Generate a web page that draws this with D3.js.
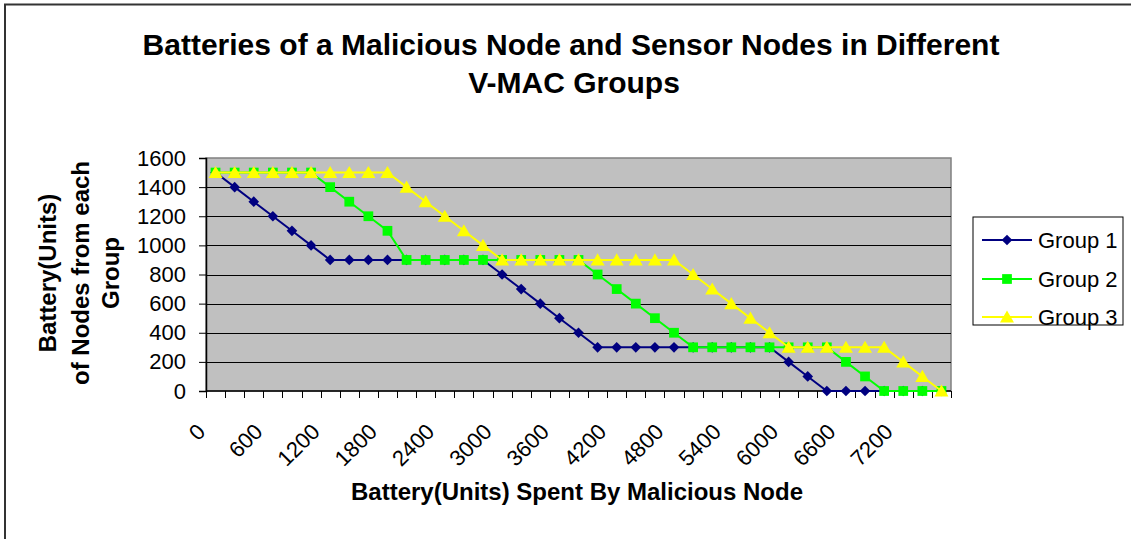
<!DOCTYPE html>
<html>
<head>
<meta charset="utf-8">
<script src="https://cdn.jsdelivr.net/npm/d3@7"></script>
<style>
  body { margin: 0; background: #fff; }
  text { font-family: "Liberation Sans", Arial, sans-serif; }
</style>
</head>
<body>
<div id="chart"></div>
<script>
// categories on x (battery spent by the malicious node)
var categories = [0, 200, 400, 600, 800, 1000, 1200, 1400, 1600, 1800,
  2000, 2200, 2400, 2600, 2800, 3000, 3200, 3400, 3600, 3800,
  4000, 4200, 4400, 4600, 4800, 5000, 5200, 5400, 5600, 5800,
  6000, 6200, 6400, 6600, 6800, 7000, 7200, 7400, 7600];

var group1 = [1500, 1400, 1300, 1200, 1100, 1000, 900, 900, 900, 900,
  900, 900, 900, 900, 900, 800, 700, 600, 500, 400,
  300, 300, 300, 300, 300, 300, 300, 300, 300, 300,
  200, 100, 0, 0, 0, 0, 0, 0, 0];

var group2 = [1500, 1500, 1500, 1500, 1500, 1500, 1400, 1300, 1200, 1100,
  900, 900, 900, 900, 900, 900, 900, 900, 900, 900,
  800, 700, 600, 500, 400, 300, 300, 300, 300, 300,
  300, 300, 300, 200, 100, 0, 0, 0, 0];

var group3 = [1500, 1500, 1500, 1500, 1500, 1500, 1500, 1500, 1500, 1500,
  1400, 1300, 1200, 1100, 1000, 900, 900, 900, 900, 900,
  900, 900, 900, 900, 900, 800, 700, 600, 500, 400,
  300, 300, 300, 300, 300, 300, 200, 100, 0];

var xTickLabels = [0, 600, 1200, 1800, 2400, 3000, 3600, 4200, 4800, 5400, 6000, 6600, 7200];
var yTicks = [0, 200, 400, 600, 800, 1000, 1200, 1400, 1600];
var seriesNames = ["Group 1", "Group 2", "Group 3"];

var svgWidth = 1131;
var svgHeight = 539;

var plot = { left: 206, top: 158, right: 951, bottom: 391 };

var svg = d3.select("#chart")
  .append("svg")
  .attr("width", svgWidth)
  .attr("height", svgHeight);

// outer chart frame (only top and left edges are visible)
svg.append("rect")
  .attr("x", 5).attr("y", 4.5)
  .attr("width", svgWidth + 10).attr("height", svgHeight + 10)
  .attr("fill", "#fff")
  .attr("stroke", "#333")
  .attr("stroke-width", 2);

// scales
var x = d3.scaleBand()
  .domain(categories)
  .range([plot.left, plot.right])
  .padding(0);

var y = d3.scaleLinear()
  .domain([0, 1600])
  .range([plot.bottom, plot.top]);

var cx = function(c) { return x(c) + x.bandwidth() / 2; };

// plot area
svg.append("rect")
  .attr("x", plot.left).attr("y", plot.top)
  .attr("width", plot.right - plot.left)
  .attr("height", plot.bottom - plot.top)
  .attr("fill", "#c0c0c0")
  .attr("stroke", "#808080")
  .attr("stroke-width", 1.5);

// gridlines
svg.append("g")
  .selectAll("line")
  .data(yTicks.filter(function(d) { return d > 0 && d < 1600; }))
  .join("line")
  .attr("x1", plot.left).attr("x2", plot.right)
  .attr("y1", function(d) { return Math.round(y(d)) + 0.5; })
  .attr("y2", function(d) { return Math.round(y(d)) + 0.5; })
  .attr("stroke", "#000")
  .attr("stroke-width", 1);

// y axis
var leftAxis = d3.axisLeft(y)
  .tickValues(yTicks)
  .tickFormat(d3.format("d"))
  .tickSize(7)
  .tickPadding(13);
var yAxisG = svg.append("g")
  .attr("transform", "translate(" + plot.left + ",0)")
  .call(leftAxis);
yAxisG.attr("font-size", null).attr("font-family", null);
yAxisG.select(".domain").attr("stroke", "#000").attr("stroke-width", 1.5);
yAxisG.selectAll("text")
  .style("font-size", "22px")
  .attr("fill", "#000");

// x axis line + boundary ticks (between categories)
svg.append("line")
  .attr("x1", plot.left).attr("x2", plot.right)
  .attr("y1", plot.bottom).attr("y2", plot.bottom)
  .attr("stroke", "#000").attr("stroke-width", 1.5);

var boundaries = categories.map(function(c) { return x(c); }).concat([x.range()[1]]);
svg.append("g")
  .selectAll("line")
  .data(boundaries)
  .join("line")
  .attr("x1", function(d) { return Math.round(d) + 0.5; })
  .attr("x2", function(d) { return Math.round(d) + 0.5; })
  .attr("y1", plot.bottom).attr("y2", plot.bottom + 7)
  .attr("stroke", "#000").attr("stroke-width", 1);

// x tick labels, rotated
svg.append("g")
  .selectAll("text")
  .data(xTickLabels)
  .join("text")
  .attr("transform", function(d) {
    return "translate(" + (cx(d) - 9) + "," + (plot.bottom + 42) + ") rotate(-45)";
  })
  .attr("text-anchor", "end")
  .style("font-size", "22px")
  .attr("fill", "#000")
  .text(function(d) { return d; });

// series
var series = [
  { name: seriesNames[0], values: group1, color: "#000080", marker: "diamond" },
  { name: seriesNames[1], values: group2, color: "#00ff00", marker: "square" },
  { name: seriesNames[2], values: group3, color: "#ffff00", marker: "triangle" }
];

var symbolFor = {
  diamond: d3.symbol().type(d3.symbolDiamond2).size(72),
  square: d3.symbol().type(d3.symbolSquare).size(95),
  triangle: d3.symbol().type(d3.symbolTriangle).size(85)
};

var line = d3.line()
  .x(function(d) { return cx(d.c); })
  .y(function(d) { return y(d.v); });

series.forEach(function(s) {
  var pts = categories.map(function(c, i) { return { c: c, v: s.values[i] }; });
  var g = svg.append("g");
  g.append("path")
    .datum(pts)
    .attr("d", line)
    .attr("fill", "none")
    .attr("stroke", s.color)
    .attr("stroke-width", 2);
  g.selectAll("path.m")
    .data(pts)
    .join("path")
    .attr("class", "m")
    .attr("d", symbolFor[s.marker])
    .attr("transform", function(d) {
      var dy = s.marker === "triangle" ? 1.5 : 0;
      return "translate(" + cx(d.c) + "," + (y(d.v) + dy) + ")";
    })
    .attr("fill", s.color);
});

// title
var title = svg.append("text")
  .attr("text-anchor", "middle")
  .style("font-size", "30px")
  .attr("font-weight", "bold")
  .attr("fill", "#000");
title.append("tspan").attr("x", 571).attr("y", 55)
  .text("Batteries of a Malicious Node and Sensor Nodes in Different");
title.append("tspan").attr("x", 574).attr("y", 93)
  .text("V-MAC Groups");

// y axis title
var yTitle = svg.append("text")
  .attr("transform", "translate(0,273) rotate(-90)")
  .attr("text-anchor", "middle")
  .style("font-size", "24px")
  .attr("font-weight", "bold")
  .attr("fill", "#000");
yTitle.append("tspan").attr("x", 0).attr("y", 56).text("Battery(Units)");
yTitle.append("tspan").attr("x", 0).attr("y", 89).text("of Nodes from each");
yTitle.append("tspan").attr("x", 0).attr("y", 119).text("Group");

// x axis title
svg.append("text")
  .attr("x", 577).attr("y", 500)
  .attr("text-anchor", "middle")
  .style("font-size", "24px")
  .attr("font-weight", "bold")
  .attr("fill", "#000")
  .text("Battery(Units) Spent By Malicious Node");

// legend
var legend = svg.append("g");
legend.append("rect")
  .attr("x", 973).attr("y", 217)
  .attr("width", 150).attr("height", 108)
  .attr("fill", "#fff")
  .attr("stroke", "#000")
  .attr("stroke-width", 1);

var rowY = [240, 279, 317];
series.forEach(function(s, i) {
  legend.append("line")
    .attr("x1", 982).attr("x2", 1032)
    .attr("y1", rowY[i]).attr("y2", rowY[i])
    .attr("stroke", s.color).attr("stroke-width", 2);
  legend.append("path")
    .attr("d", symbolFor[s.marker])
    .attr("transform", "translate(1007," + (rowY[i] + (s.marker === "triangle" ? 1.5 : 0)) + ")")
    .attr("fill", s.color);
  legend.append("text")
    .attr("x", 1038).attr("y", rowY[i] + 8)
    .style("font-size", "22px")
    .attr("fill", "#000")
    .text(s.name);
});
</script>
</body>
</html>
